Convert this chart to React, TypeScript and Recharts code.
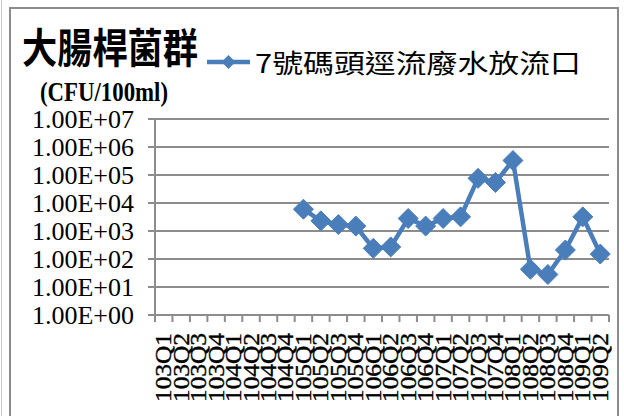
import React from 'react';
import { LineChart, Line, XAxis, YAxis, CartesianGrid } from 'recharts';

// quarters shown on the x axis
const CATEGORIES = [
  '103Q1', '103Q2', '103Q3', '103Q4',
  '104Q1', '104Q2', '104Q3', '104Q4',
  '105Q1', '105Q2', '105Q3', '105Q4',
  '106Q1', '106Q2', '106Q3', '106Q4',
  '107Q1', '107Q2', '107Q3', '107Q4',
  '108Q1', '108Q2', '108Q3', '108Q4',
  '109Q1', '109Q2'
];

// CFU/100ml
const OUTFALL_7 = [
  null, null, null, null, null, null, null, null,
  6000, 2300, 1700, 1500, 240, 270, 2800, 1500,
  2800, 3200, 76000, 54000, 330000, 43, 28, 210,
  3200, 150
];

const Y_TICKS = [1, 10, 100, 1000, 10000, 100000, 1000000, 10000000];
const Y_TICK_LABELS = [
  '1.00E+00', '1.00E+01', '1.00E+02', '1.00E+03',
  '1.00E+04', '1.00E+05', '1.00E+06', '1.00E+07'
];

const SERIES_NAME = '7號碼頭逕流廢水放流口';
const TITLE = '大腸桿菌群';
const UNIT = '(CFU/100ml)';

const BLUE = '#4A7EBB';
const GREY = '#8c8c8c';

const data = CATEGORIES.map((q, i) => ({ q, v: OUTFALL_7[i] }));

const Diamond = (props: any) => {
  const { cx, cy, value } = props;
  if (value == null || cx == null || cy == null) return null;
  const r = 10;
  return (
    <polygon
      points={`${cx},${cy - r} ${cx + r},${cy} ${cx},${cy + r} ${cx - r},${cy}`}
      fill={BLUE}
      stroke={BLUE}
      strokeWidth={1}
    />
  );
};

const XTick = (props: any) => {
  const { x, y, payload, index } = props;
  const off = payload.offset ?? 0;
  const axisY = y - 7;
  const tx = x + 7.5;
  const ty = y + 11;
  return (
    <g>
      <line x1={x - off} y1={axisY} x2={x - off} y2={axisY + 7} stroke={GREY} strokeWidth={2} />
      {index === CATEGORIES.length - 1 && (
        <line x1={x + off} y1={axisY} x2={x + off} y2={axisY + 7} stroke={GREY} strokeWidth={2} />
      )}
      <text
        x={tx}
        y={ty}
        transform={`rotate(-90 ${tx} ${ty})`}
        textAnchor="end"
        fontFamily="'Liberation Serif', serif"
        fontSize={23}
        textLength={69}
        lengthAdjust="spacingAndGlyphs"
        fill="#000"
        stroke="#000"
        strokeWidth={0.4}
      >
        {payload.value}
      </text>
    </g>
  );
};

export default function App() {
  return (
    <div style={{ position: 'absolute', left: 0, top: 0, width: 624, height: 416, overflow: 'hidden', background: '#fff' }}>
      <div style={{ position: 'absolute', left: 1, top: 0, width: 1, height: 416, background: '#c8c8c8' }} />
      <div
        style={{
          position: 'absolute',
          left: 9,
          top: 7,
          width: 606,
          height: 430,
          border: `2px solid ${GREY}`
        }}
      />
      <svg width={624} height={120} style={{ position: 'absolute', left: 0, top: 0 }}>
        <text
          x={22}
          y={63}
          fontFamily="'Noto Sans CJK TC', sans-serif"
          fontWeight={700}
          fontSize={41}
          textLength={176}
          lengthAdjust="spacingAndGlyphs"
          fill="#000"
        >
          {TITLE}
        </text>
        <text
          x={40}
          y={101}
          fontFamily="'Liberation Serif', serif"
          fontWeight={700}
          fontSize={28}
          textLength={128}
          lengthAdjust="spacingAndGlyphs"
          fill="#000"
        >
          {UNIT}
        </text>
        {/* legend */}
        <g transform="translate(204, 42)">
          <line x1={3} y1={20} x2={46} y2={20} stroke={BLUE} strokeWidth={4.5} />
          <polygon points="24.5,13 31.5,20 24.5,27 17.5,20" fill={BLUE} />
          <text
            x={51}
            y={31}
            fontFamily="'Noto Sans CJK TC', sans-serif"
            fontSize={26}
            textLength={326}
            lengthAdjust="spacingAndGlyphs"
            fill="#000"
          >
            {SERIES_NAME}
          </text>
        </g>
      </svg>
      <div style={{ position: 'absolute', left: 0, top: 0 }}>
        <LineChart width={624} height={416} data={data} margin={{ top: 119, right: 15, bottom: 11, left: 15 }}>
          <CartesianGrid vertical={false} stroke={GREY} strokeWidth={2} />
          <XAxis
            dataKey="q"
            scale="band"
            interval={0}
            height={90}
            tickSize={7}
            tickMargin={0}
            tickLine={false}
            axisLine={{ stroke: GREY, strokeWidth: 2 }}
            tick={<XTick />}
          />
          <YAxis
            scale="log"
            domain={[1, 10000000]}
            ticks={Y_TICKS}
            interval={0}
            allowDataOverflow
            width={140}
            tickSize={7}
            tickMargin={14}
            axisLine={{ stroke: GREY, strokeWidth: 2 }}
            tickLine={{ stroke: GREY, strokeWidth: 2 }}
            tickFormatter={(v: number) => Y_TICK_LABELS[Y_TICKS.indexOf(v)] ?? ''}
            tick={{ fontFamily: "'Liberation Serif', serif", fontSize: 26, fill: '#000' }}
          />
          <Line
            type="linear"
            dataKey="v"
            name={SERIES_NAME}
            stroke={BLUE}
            strokeWidth={4.5}
            dot={<Diamond />}
            activeDot={false}
            connectNulls={false}
            isAnimationActive={false}
          />
        </LineChart>
      </div>
    </div>
  );
}
